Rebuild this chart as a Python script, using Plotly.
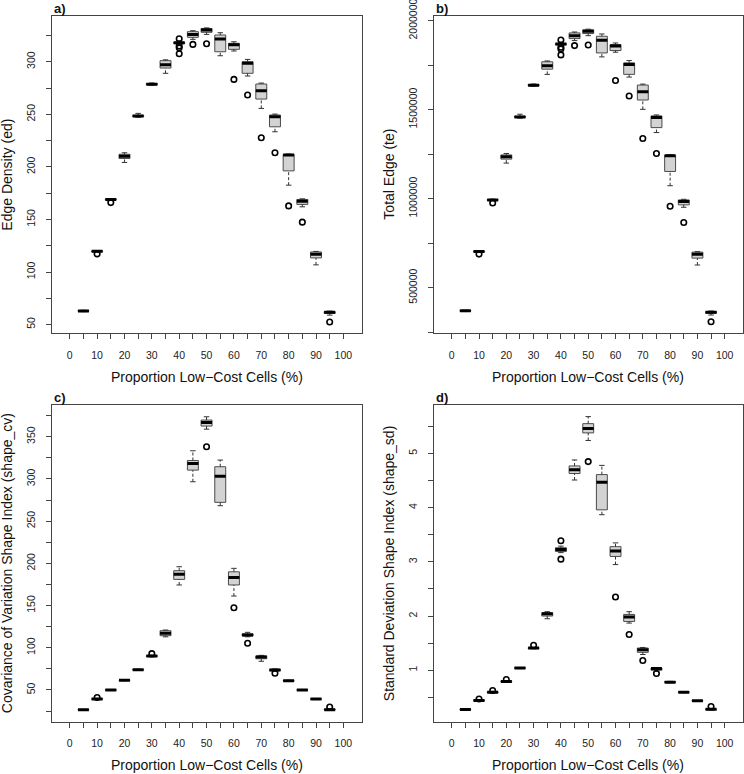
import plotly.graph_objects as go

# ---------------- data ----------------
pos = [5, 10, 15, 20, 25, 30, 35, 40, 45, 50, 55, 60, 65, 70, 75, 80, 85, 90, 95]

# a) Edge Density (ed)
ed_lo  = [62.3, 119.0, 168.3, 204.2, 247.2, 277.8, 289.0, 316.3, 321.3, 326.0, 305.7, 310.2, 286.4, 255.6, 233.4, 182.6, 162.0, 106.8, 59.0]
ed_q1  = [62.7, 119.2, 168.6, 208.0, 247.8, 278.0, 294.0, 317.2, 323.2, 328.0, 309.5, 311.8, 289.0, 264.5, 238.1, 196.2, 164.3, 113.4, 60.6]
ed_med = [63.0, 119.7, 169.0, 210.2, 248.3, 278.6, 297.2, 318.0, 326.0, 330.2, 321.6, 316.2, 298.5, 272.4, 247.7, 211.2, 167.4, 117.0, 61.7]
ed_q3  = [63.3, 120.0, 169.4, 212.0, 249.0, 279.3, 301.0, 318.6, 328.6, 331.6, 325.4, 317.5, 300.0, 278.8, 249.3, 211.8, 169.0, 119.1, 62.3]
ed_hi  = [63.6, 120.3, 169.8, 213.4, 250.9, 279.8, 301.8, 320.0, 329.5, 332.2, 327.6, 319.0, 302.2, 279.7, 250.2, 212.2, 169.6, 119.6, 62.8]
ed_out_x = [10, 15, 40, 40, 40, 40, 45, 50, 60, 65, 70, 75, 80, 85, 95]
ed_out_y = [117.2, 166.0, 321.8, 315.0, 313.2, 307.6, 316.5, 317.1, 283.2, 268.3, 227.7, 213.4, 162.9, 147.4, 52.5]

# b) Total Edge (te)
te_lo  = [366100, 699200, 988900, 1199900, 1452500, 1632400, 1698200, 1858600, 1887900, 1915600, 1796300, 1822700, 1682900, 1501900, 1371500, 1072900, 951900, 627600, 346700]
te_q1  = [368400, 700400, 990700, 1222200, 1456100, 1633500, 1727500, 1863900, 1899100, 1927300, 1818600, 1832100, 1698200, 1554200, 1399100, 1152900, 965400, 666300, 356100]
te_med = [370200, 703400, 993000, 1235100, 1459000, 1637100, 1746300, 1868600, 1915600, 1940200, 1889700, 1858000, 1754000, 1600600, 1455500, 1241000, 983600, 687500, 362500]
te_q3  = [372000, 705100, 995400, 1245700, 1463100, 1641200, 1768700, 1872100, 1930900, 1948500, 1912100, 1865600, 1762800, 1638200, 1464900, 1244500, 993000, 699800, 366100]
te_hi  = [373700, 706900, 997700, 1253900, 1474300, 1644100, 1773400, 1880300, 1936100, 1952000, 1925000, 1874400, 1775700, 1643500, 1470200, 1246900, 996600, 702800, 369000]
te_out_x = [10, 15, 40, 40, 40, 40, 45, 50, 60, 65, 70, 75, 80, 85, 95]
te_out_y = [688700, 975400, 1890900, 1850900, 1840400, 1807500, 1859800, 1863300, 1664100, 1576500, 1338000, 1253900, 957200, 866100, 308500]

# c) Covariance of Variation Shape Index (shape_cv)
cv_lo  = [26.0, 38.6, 49.5, 61.0, 73.5, 89.2, 113.0, 174.4, 296.7, 359.0, 268.3, 161.3, 113.0, 84.0, 72.0, 60.5, 49.5, 38.8, 26.0]
cv_q1  = [26.2, 38.9, 49.7, 61.2, 73.7, 89.6, 114.3, 181.0, 310.5, 362.7, 272.3, 174.4, 114.0, 87.0, 72.7, 60.7, 49.7, 39.0, 26.3]
cv_med = [26.5, 39.3, 50.0, 61.5, 74.0, 90.3, 117.1, 187.0, 318.4, 367.0, 303.1, 183.4, 115.1, 89.1, 73.7, 61.0, 50.0, 39.3, 26.7]
cv_q3  = [26.8, 39.7, 50.3, 61.8, 74.3, 90.8, 120.2, 191.3, 321.9, 369.8, 314.5, 190.0, 116.5, 90.3, 74.5, 61.3, 50.3, 39.6, 27.3]
cv_hi  = [27.0, 40.0, 50.5, 62.0, 74.5, 91.2, 121.0, 196.0, 333.4, 373.7, 322.4, 194.1, 118.3, 91.0, 75.0, 61.5, 50.5, 39.8, 27.6]
cv_out_x = [10, 30, 50, 60, 65, 75, 95]
cv_out_y = [41.0, 93.0, 338.2, 147.5, 105.3, 69.8, 29.8]

# d) Standard Deviation Shape Index (shape_sd)
sd_lo  = [0.26, 0.43, 0.58, 0.78, 1.03, 1.395, 1.95, 3.17, 4.51, 5.24, 3.87, 2.95, 1.87, 1.29, 0.98, 0.77, 0.585, 0.43, 0.265]
sd_q1  = [0.27, 0.435, 0.59, 0.785, 1.035, 1.40, 2.00, 3.19, 4.63, 5.38, 3.96, 3.10, 1.90, 1.33, 1.00, 0.775, 0.59, 0.432, 0.27]
sd_med = [0.275, 0.44, 0.595, 0.79, 1.04, 1.41, 2.04, 3.23, 4.70, 5.46, 4.47, 3.20, 1.98, 1.38, 1.03, 0.78, 0.595, 0.435, 0.28]
sd_q3  = [0.28, 0.45, 0.60, 0.80, 1.045, 1.415, 2.06, 3.26, 4.77, 5.55, 4.61, 3.28, 2.03, 1.41, 1.04, 0.79, 0.60, 0.44, 0.285]
sd_hi  = [0.29, 0.455, 0.61, 0.805, 1.05, 1.42, 2.08, 3.29, 4.88, 5.68, 4.78, 3.35, 2.08, 1.42, 1.05, 0.795, 0.605, 0.442, 0.29]
sd_out_x = [10, 15, 20, 30, 40, 40, 50, 60, 65, 70, 75, 95]
sd_out_y = [0.47, 0.625, 0.83, 1.46, 3.39, 3.05, 4.85, 2.35, 1.66, 1.18, 0.94, 0.33]

x_tick_vals = list(range(0, 101, 5))
x_tick_text = [str(v) if v % 10 == 0 else "" for v in x_tick_vals]

ed_ticks = list(range(50, 326, 25))
te_ticks = list(range(250000, 2000001, 250000))
cv_ticks = list(range(25, 376, 25))
sd_ticks = [0.5, 1.0, 1.5, 2.0, 2.5, 3.0, 3.5, 4.0, 4.5, 5.0, 5.5]

x_title = "Proportion Low\u2212Cost Cells (%)"
y_titles = ["Edge Density (ed)", "Total Edge (te)",
            "Covariance of Variation Shape Index (shape_cv)",
            "Standard Deviation Shape Index (shape_sd)"]
panel_labels = ["a)", "b)", "c)", "d)"]

# ---------------- layout geometry ----------------
W, H = 744, 774
FONT = "Liberation Sans, Arial, Helvetica, sans-serif"
BOXW = 4.0
STAPLE = BOXW / 2

def fx(p):
    return p / W

def fy(p):
    return 1 - p / H

x_doms = [[fx(51.7), fx(361.7)], [fx(433.7), fx(743)]]
y_doms = [[fy(333.3), fy(16)], [fy(721.7), fy(404.7)]]

panels = [
    (ed_lo, ed_q1, ed_med, ed_q3, ed_hi, ed_out_x, ed_out_y, ed_ticks, [41.7, 343.5], 50),
    (te_lo, te_q1, te_med, te_q3, te_hi, te_out_x, te_out_y, te_ticks, [244000, 2026000], 500000),
    (cv_lo, cv_q1, cv_med, cv_q3, cv_hi, cv_out_x, cv_out_y, cv_ticks, [12.4, 388.0], 50),
    (sd_lo, sd_q1, sd_med, sd_q3, sd_hi, sd_out_x, sd_out_y, sd_ticks, [0.05, 5.9], 1),
]

fig = go.Figure()
layout = dict(
    width=W, height=H,
    margin=dict(l=0, r=0, t=0, b=0, autoexpand=False),
    paper_bgcolor="white", plot_bgcolor="white",
    showlegend=False,
    font=dict(family=FONT, color="#222"),
)
annotations = []

for i, (lo, q1, med, q3, hi, ox, oy, yt, yr, lab_step) in enumerate(panels):
    n = i + 1
    xa = "x" if n == 1 else f"x{n}"
    ya = "y" if n == 1 else f"y{n}"
    col = i % 2
    row = i // 2

    # dashed whiskers (R style)
    wx, wy = [], []
    for p, a, b, c, d in zip(pos, lo, q1, q3, hi):
        wx += [p, p, None, p, p, None]
        wy += [a, b, None, c, d, None]
    fig.add_trace(go.Scatter(x=wx, y=wy, mode="lines",
                             line=dict(color="#333", width=1, dash="3px,2px"),
                             xaxis=xa, yaxis=ya, hoverinfo="skip"))
    # staples
    sx, sy = [], []
    for p, a, d in zip(pos, lo, hi):
        sx += [p - STAPLE / 2, p + STAPLE / 2, None, p - STAPLE / 2, p + STAPLE / 2, None]
        sy += [a, a, None, d, d, None]
    fig.add_trace(go.Scatter(x=sx, y=sy, mode="lines",
                             line=dict(color="#333", width=1),
                             xaxis=xa, yaxis=ya, hoverinfo="skip"))
    # boxes (IQR only; whiskers drawn above)
    fig.add_trace(go.Box(
        x=pos, q1=q1, median=med, q3=q3, lowerfence=q1, upperfence=q3,
        width=BOXW, whiskerwidth=0, boxpoints=False,
        fillcolor="#d3d3d3", line=dict(color="#4a4a4a", width=1),
        xaxis=xa, yaxis=ya, hoverinfo="skip",
    ))
    # thick median bars (R style)
    mx, my = [], []
    for p, m in zip(pos, med):
        mx += [p - BOXW / 2, p + BOXW / 2, None]
        my += [m, m, None]
    fig.add_trace(go.Scatter(x=mx, y=my, mode="lines",
                             line=dict(color="black", width=3),
                             xaxis=xa, yaxis=ya, hoverinfo="skip"))
    # outliers
    fig.add_trace(go.Scatter(x=ox, y=oy, mode="markers",
                             marker=dict(symbol="circle-open", size=5.5,
                                         color="black", line=dict(width=1.6, color="black")),
                             xaxis=xa, yaxis=ya, hoverinfo="skip"))

    def fmt(v):
        if float(v).is_integer():
            return str(int(v))
        return str(v)
    ytext = [fmt(v) if abs((v / lab_step) - round(v / lab_step)) < 1e-9 else "" for v in yt]

    axis_common = dict(
        showline=True, linecolor="#444", linewidth=1, mirror=True,
        ticks="outside", ticklen=5, tickwidth=1, tickcolor="#444",
        showgrid=False, zeroline=False, automargin=False,
        tickfont=dict(family=FONT, size=10.5, color="#222"),
        ticklabelstandoff=7, ticklabeloverflow="allow",
    )
    layout["xaxis" if n == 1 else f"xaxis{n}"] = dict(
        domain=x_doms[col], range=[-6.6, 106.7], anchor=ya,
        tickmode="array", tickvals=x_tick_vals, ticktext=x_tick_text,
        **axis_common,
    )
    layout["yaxis" if n == 1 else f"yaxis{n}"] = dict(
        domain=y_doms[row], range=yr, anchor=xa,
        tickmode="array", tickvals=yt, ticktext=ytext, tickangle=-90,
        **axis_common,
    )

    xl, xr = x_doms[col]
    yb, ytp = y_doms[row]
    # x title
    annotations.append(dict(
        text=x_title, xref="paper", yref="paper",
        x=(xl + xr) / 2, y=fy(377 if row == 0 else 765),
        xanchor="center", yanchor="middle", showarrow=False,
        font=dict(family=FONT, size=14, color="#111"),
    ))
    # y title
    annotations.append(dict(
        text=y_titles[i], xref="paper", yref="paper",
        x=fx(7 if col == 0 else 389), y=(yb + ytp) / 2,
        xanchor="center", yanchor="middle", textangle=-90, showarrow=False,
        font=dict(family=FONT, size=14, color="#111"),
    ))
    # panel label
    annotations.append(dict(
        text="<b>" + panel_labels[i] + "</b>", xref="paper", yref="paper",
        x=xl, y=fy(8.3 if row == 0 else 397.5),
        xanchor="left", yanchor="middle", showarrow=False,
        font=dict(family=FONT, size=13, color="#111"),
    ))

layout["annotations"] = annotations
fig.update_layout(**layout)
fig.write_html(
    "out.html",
    config={"displayModeBar": False},
    post_script="document.body.style.margin='0';document.body.style.overflow='hidden';",
)
